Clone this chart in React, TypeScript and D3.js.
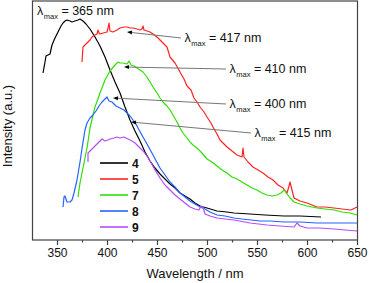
import * as d3 from 'd3';

const W = 369;
const H = 283;

// [wavelength nm, intensity a.u.]
const s4: [number, number][] = [
  [335.5, 167], [337.5, 178], [338.5, 184], [340.5, 185], [342.5, 186], [344.5, 195], [347.5, 202],
  [350.5, 208], [353.5, 214], [355.5, 217], [357.5, 219], [359.5, 220], [362.5, 219], [364.5, 218],
  [367.5, 219], [370.5, 220], [372.5, 221], [375.5, 219], [378.5, 216], [382.5, 211], [387.5, 203],
  [392.5, 194], [397.5, 183], [402.5, 170], [407.5, 158], [412.5, 147], [417.5, 133], [422.5, 120],
  [427.5, 109], [432.5, 99], [437.5, 88], [442.5, 79], [447.5, 72], [452.5, 66], [457.5, 61],
  [462.5, 56], [467.5, 52], [472.5, 47], [477.5, 44], [482.5, 41], [487.5, 37], [492.5, 34],
  [499.5, 32], [509.5, 29], [519.5, 28], [526.5, 27], [542.5, 26], [557.5, 25], [576.5, 24],
  [592.5, 24], [613.5, 23],
];

const s5: [number, number][] = [
  [374.5, 178], [375.5, 193], [377.5, 195], [379.5, 197], [382.5, 200], [384.5, 203], [387.5, 205],
  [389.5, 206], [390.5, 210], [391.5, 207], [392.5, 206], [395.5, 207], [399.5, 208], [400.5, 212],
  [401.5, 217], [402.5, 209], [405.5, 208], [409.5, 210], [412.5, 212], [416.5, 213], [419.5, 213],
  [422.5, 212], [425.5, 212], [429.5, 211], [432.5, 210], [434.5, 211], [435.5, 214], [436.5, 210],
  [439.5, 209], [442.5, 208], [445.5, 206], [449.5, 203], [452.5, 200], [455.5, 197], [459.5, 193],
  [462.5, 183], [467.5, 177], [472.5, 168], [476.5, 161], [479.5, 154], [483.5, 150], [486.5, 142],
  [489.5, 138], [492.5, 133], [496.5, 128], [499.5, 123], [503.5, 117], [505.5, 113], [509.5, 106],
  [512.5, 100], [516.5, 96], [519.5, 93], [524.5, 89], [529.5, 85], [534.5, 83], [535.5, 92],
  [536.5, 83], [540.5, 78], [545.5, 73], [550.5, 70], [555.5, 67], [560.5, 63], [565.5, 60],
  [570.5, 55], [575.5, 52], [579.5, 47], [581.5, 54], [582.5, 58], [583.5, 54], [586.5, 42],
  [592.5, 39], [599.5, 37], [604.5, 35], [609.5, 33], [617.5, 33], [626.5, 32], [634.5, 31],
  [643.5, 30], [647.5, 32], [649.5, 33],
];

const s7: [number, number][] = [
  [370.5, 43], [372.5, 57], [375.5, 72], [377.5, 82], [379.5, 92], [382.5, 112], [387.5, 133],
  [392.5, 147], [397.5, 160], [402.5, 169], [407.5, 175], [410.5, 178], [412.5, 177], [415.5, 177],
  [419.5, 176], [421.5, 179], [423.5, 175], [426.5, 174], [429.5, 172], [432.5, 170], [435.5, 168],
  [439.5, 163], [442.5, 158], [445.5, 153], [449.5, 147], [452.5, 142], [455.5, 138], [459.5, 134],
  [462.5, 130], [465.5, 125], [469.5, 118], [472.5, 112], [475.5, 107], [479.5, 102], [482.5, 98],
  [485.5, 95], [489.5, 92], [494.5, 87], [499.5, 81], [504.5, 78], [509.5, 74], [514.5, 70],
  [519.5, 67], [524.5, 63], [529.5, 61], [534.5, 58], [539.5, 55], [544.5, 52], [549.5, 50],
  [554.5, 47], [559.5, 45], [564.5, 44], [569.5, 45], [573.5, 47], [576.5, 50], [579.5, 46],
  [582.5, 42], [586.5, 38], [592.5, 36], [599.5, 34], [609.5, 32], [617.5, 31], [626.5, 30],
  [634.5, 28], [642.5, 27], [649.5, 25],
];

const s8: [number, number][] = [
  [355.5, 33], [356.5, 43], [357.5, 44], [359.5, 38], [362.5, 38], [364.5, 40], [366.5, 47],
  [369.5, 60], [372.5, 78], [375.5, 98], [377.5, 110], [379.5, 117], [382.5, 122], [385.5, 125],
  [388.5, 129], [391.5, 134], [394.5, 138], [397.5, 141], [399.5, 143], [401.5, 139], [404.5, 138],
  [408.5, 134], [412.5, 132], [416.5, 130], [419.5, 127], [422.5, 124], [425.5, 120], [428.5, 116],
  [430.5, 112], [435.5, 103], [439.5, 96], [445.5, 85], [452.5, 72], [457.5, 65], [462.5, 58],
  [467.5, 53], [472.5, 47], [477.5, 43], [482.5, 39], [487.5, 36], [492.5, 33], [497.5, 31],
  [502.5, 28], [509.5, 25], [517.5, 24], [526.5, 22], [534.5, 21], [543.5, 20], [552.5, 19],
  [562.5, 19], [576.5, 18], [592.5, 18], [609.5, 17], [622.5, 17], [637.5, 17], [649.5, 17],
];

const s9: [number, number][] = [
  [380.5, 78], [380.5, 87], [382.5, 89], [385.5, 92], [388.5, 95], [390.5, 97], [392.5, 99],
  [394.5, 101], [397.5, 99], [400.5, 100], [402.5, 101], [406.5, 102], [409.5, 103], [412.5, 102],
  [416.5, 103], [420.5, 101], [424.5, 99], [427.5, 97], [429.5, 95], [432.5, 92], [435.5, 89],
  [439.5, 84], [442.5, 79], [447.5, 70], [452.5, 62], [457.5, 55], [462.5, 50], [467.5, 45],
  [472.5, 41], [477.5, 37], [482.5, 33], [487.5, 31], [491.5, 30], [493.5, 34], [495.5, 33],
  [497.5, 26], [502.5, 24], [509.5, 22], [517.5, 21], [526.5, 20], [542.5, 17], [559.5, 15],
  [572.5, 14], [586.5, 13], [589.5, 17], [592.5, 14], [599.5, 12], [612.5, 12], [626.5, 11],
  [637.5, 10], [649.5, 9],
];

const seriesNames = ['4', '5', '7', '8', '9'];
const seriesData = [s4, s5, s7, s8, s9];
const seriesColors = ['#000000', '#ff2222', '#2ee000', '#2563ff', '#b44cff'];

const xTicks = [350, 400, 450, 500, 550, 600, 650];
const xMinor = [375, 425, 475, 525, 575, 625];

// peak labels: text value, arrow tip [wl, int], line end [wl, int]
const peakLabels = ['417', '410', '400', '415'];
const peakTips: [number, number][] = [[419.5, 208], [416.5, 173], [405.5, 142], [423.5, 118]];
const peakEnds: [number, number][] = [[473.5, 202], [518.5, 171], [518.5, 136], [543.5, 107]];

const margin = { left: 32.5, right: 11.5, top: 1, bottom: 43 };

function Lmax({ x, y, value }: { x: number; y: number; value: string }) {
  return (
    <text x={x} y={y} fontSize={12.5} fill="#111">
      <tspan>λ</tspan>
      <tspan fontSize={7.5} dy={4} dx={0.5}>max</tspan>
      <tspan dy={-4}>{` = ${value} nm`}</tspan>
    </text>
  );
}

export default function App() {
  const x = d3.scaleLinear().domain([325, 650]).range([margin.left, W - margin.right]);
  const y = d3.scaleLinear().domain([0, 239]).range([H - margin.bottom, margin.top]);
  const line = d3.line<[number, number]>().x((d) => x(d[0])).y((d) => y(d[1]));
  const x0 = x(325), x1 = x(650), yb = y(0), yt = y(239);

  return (
    <svg width={W} height={H} style={{ position: 'absolute', left: 0, top: 0, fontFamily: 'Liberation Sans, Arial, sans-serif' }}>
      <rect width={W} height={H} fill="#fff" />
      {seriesData.map((d, i) => (
        <path key={i} d={line(d) ?? ''} fill="none" stroke={seriesColors[i]} strokeWidth={1.2} strokeLinejoin="round" />
      ))}

      {/* frame */}
      <rect x={x0} y={yt} width={x1 - x0} height={yb - yt} fill="none" stroke="#444" strokeWidth={1.2} />
      {xTicks.map((t) => (
        <g key={t}>
          <line x1={x(t)} x2={x(t)} y1={yb} y2={yb + 5} stroke="#444" strokeWidth={1.2} />
          <text x={x(t)} y={257} textAnchor="middle" fontSize={12} fill="#111">{t}</text>
        </g>
      ))}
      {xMinor.map((t) => (
        <line key={t} x1={x(t)} x2={x(t)} y1={yb} y2={yb + 2.5} stroke="#444" strokeWidth={1.2} />
      ))}
      <text x={195} y={278} textAnchor="middle" fontSize={13} fill="#111">Wavelength / nm</text>
      <text transform="translate(12,126) rotate(-90)" textAnchor="middle" fontSize={13} fill="#111">Intensity (a.u.)</text>

      {/* annotations */}
      <Lmax x={37} y={15} value="365" />
      {peakLabels.map((v, i) => {
        const tx = x(peakTips[i][0]), ty = y(peakTips[i][1]);
        const ex = x(peakEnds[i][0]), ey = y(peakEnds[i][1]);
        const ang = Math.atan2(ey - ty, ex - tx);
        const L = 5, hw = 2;
        const bx = tx + L * Math.cos(ang), by = ty + L * Math.sin(ang);
        const px = -Math.sin(ang) * hw, py = Math.cos(ang) * hw;
        return (
          <g key={v}>
            <line x1={bx} y1={by} x2={ex} y2={ey} stroke="#777" strokeWidth={1} />
            <path d={`M${tx},${ty}L${bx + px},${by + py}L${bx - px},${by - py}Z`} fill="#000" />
            <Lmax x={ex + 3.5} y={ey + 4} value={v} />
          </g>
        );
      })}

      {/* legend */}
      {seriesNames.map((n, i) => (
        <g key={n} transform={`translate(0,${163 + i * 16})`}>
          <line x1={100} x2={128} y1={0} y2={0} stroke={seriesColors[i]} strokeWidth={1.6} />
          <text x={132} y={4.5} fontSize={12} fontWeight="bold" fill="#111">{n}</text>
        </g>
      ))}
    </svg>
  );
}
